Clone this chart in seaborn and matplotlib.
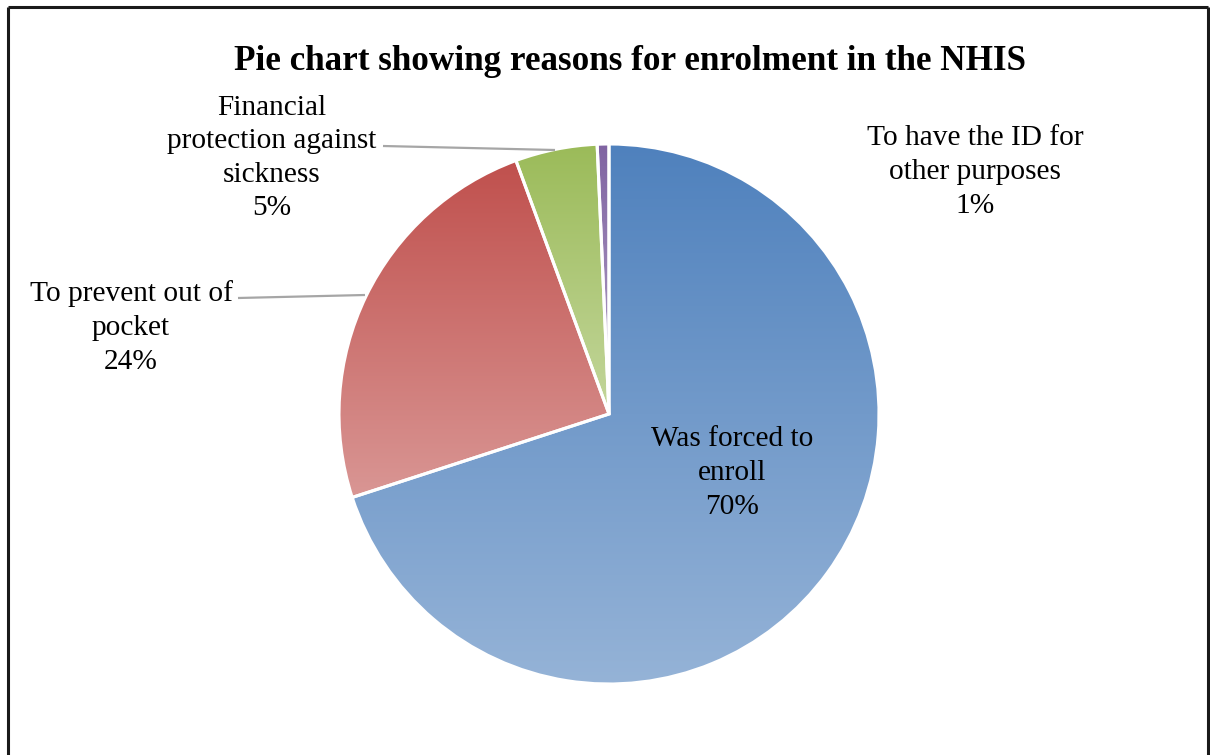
import numpy as np
import matplotlib
matplotlib.use("Agg")
import matplotlib.pyplot as plt
import seaborn as sns
from matplotlib.colors import LinearSegmentedColormap

sns.set_theme(style="white")
plt.rcParams['font.family'] = ['Liberation Serif', 'DejaVu Serif']

# ---- data ----
categories = ["Was forced to\nenroll", "To prevent out of\npocket",
              "Financial\nprotection against\nsickness", "To have the ID for\nother purposes"]
values = [70.0, 24.4, 4.9, 0.7]
pct_labels = ["70%", "24%", "5%", "1%"]
top_colors = ["#4F81BD", "#C0504D", "#9BBB59", "#8064A2"]
bottom_colors = ["#95B3D7", "#D99694", "#C3D69B", "#B3A2C7"]
title = "Pie chart showing reasons for enrolment in the NHIS"

W, H = 1210, 755
fig = plt.figure(figsize=(W / 100, H / 100), dpi=100)
ax = fig.add_axes([0, 0, 1, 1])

cx, cy, R = 609, H - 414, 270
wedges, _ = ax.pie(values, startangle=90, counterclock=False, center=(cx, cy), radius=R,
                   colors=top_colors, wedgeprops=dict(edgecolor="white", linewidth=2.2),
                   frame=True)

# gradient fill per wedge
for w, c0, c1 in zip(wedges, top_colors, bottom_colors):
    bb = w.get_path().get_extents(w.get_patch_transform())
    cmap = LinearSegmentedColormap.from_list("g", [c1, c0])
    grad = np.linspace(0, 1, 256).reshape(-1, 1)
    im = ax.imshow(grad, cmap=cmap, origin="lower", aspect="auto",
                   extent=[bb.x0, bb.x1, bb.y0, bb.y1], zorder=1.5,
                   interpolation="bilinear")
    im.set_clip_path(w)
    w.set_facecolor("none")
    w.set_zorder(2)

ax.set_xlim(0, W)
ax.set_ylim(0, H)
ax.set_aspect("equal")
ax.axis("off")

fs = 21.2
ls = 1.38
# label block centres in pixel coords
label_pos = [(732, 473), (131, 327.5), (272, 158), (975, 172)]
for cat, pct, (x, y) in zip(categories, pct_labels, label_pos):
    ax.text(x, H - y, cat + "\n" + pct, ha="center", va="center",
            fontsize=fs, linespacing=ls, color="black", zorder=3)

# leader lines
ax.plot([383, 555], [H - 146, H - 150], color="#A6A6A6", lw=1.6, solid_capstyle="butt")
ax.plot([238, 365], [H - 298, H - 295], color="#A6A6A6", lw=1.6, solid_capstyle="butt")

ax.text(630, H - 61, title, ha="center", va="center", fontsize=25.3, fontweight="bold",
        color="black")

# border
ax.plot([8, 8], [0, H - 7], color="#1A1A1A", lw=2.2, solid_capstyle="butt")
ax.plot([8, 1208], [H - 7, H - 7], color="#1A1A1A", lw=2.2, solid_capstyle="butt")
ax.plot([1208, 1208], [0, H - 7], color="#1A1A1A", lw=2.2, solid_capstyle="butt")

fig.savefig("out.png", dpi=100, facecolor="white")
